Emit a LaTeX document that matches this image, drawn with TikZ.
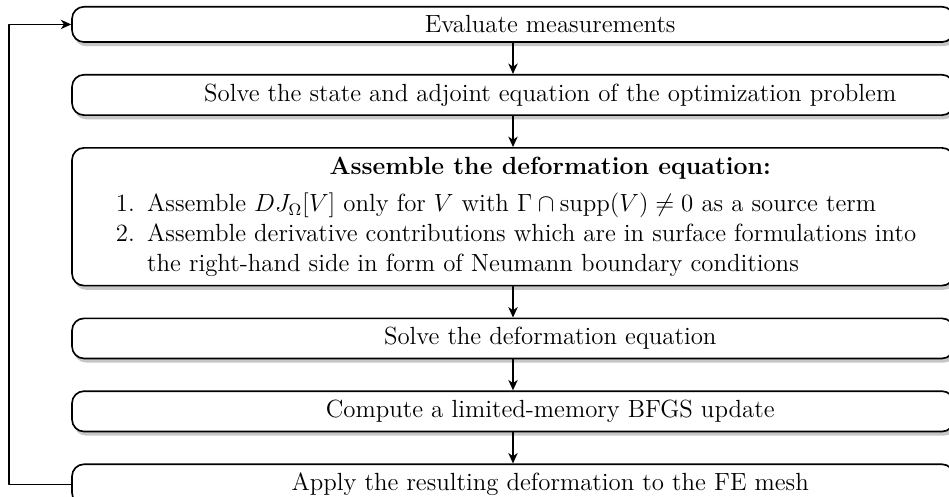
\documentclass[12pt,tikz,border=0pt]{standalone}
\usepackage{amsmath}
\usepackage{amssymb}
\usepackage{enumitem}
\usepackage{tikz}
\usetikzlibrary{arrows.meta, positioning, shadows}

\begin{document}
\begin{tikzpicture}[line cap=round, line join=round, >={Stealth[length=5pt,width=4.5pt,inset=1.5pt]},
		node distance=15pt,
		stage/.style={draw, thick, fill=white, rounded corners=5.8pt, minimum width=426pt,
			inner xsep=6.3pt, inner ysep=4.3pt,
			drop shadow={shadow xshift=1pt, shadow yshift=-2pt, fill=black!22, opacity=1}},
		task/.style={stage, execute at begin node={\hspace*{3em}}},
		flow/.style={->, thick}]
		% frame of the picture
		\useasboundingbox (-247.8pt,11.8pt) rectangle (210.6pt,-227.8pt);
		
		% stages of one iteration
		\node[task] (eval) at (0,0) {Evaluate measurements};
		\node[task, below=of eval] (solve) {Solve the state and adjoint equation of the optimization problem};
		\node[stage, below=of solve] (assemble) {\begin{minipage}{413.4pt}
				\centering\hspace*{3em}\textbf{Assemble the deformation equation:}\par\raggedright
				\begin{enumerate}[topsep=3.6pt, partopsep=0pt, itemsep=0pt, parsep=0pt]
					\item Assemble $DJ_\Omega[V]$ only for $V$ with $\Gamma\cap\operatorname{supp}(V)\neq 0$ as a source term
					\item Assemble derivative contributions which are in surface formulations into the right-hand side in form of Neumann boundary conditions
				\end{enumerate}
			\end{minipage}};
		\node[task, below=of assemble] (deform) {Solve the deformation equation};
		\node[task, below=of deform] (bfgs) {Compute a limited-memory BFGS update};
		\node[task, below=of bfgs] (apply) {Apply the resulting deformation to the FE mesh};
		
		% connectors
		\draw [flow] (eval) -- (solve);
		\draw [flow] (solve) -- (assemble);
		\draw [flow] (assemble) -- (deform);
		\draw [flow] (deform) -- (bfgs);
		\draw [flow] (bfgs) -- (apply);
		\draw [flow] (apply.west) -- ++(-30pt,0) |- (eval.west); % next iteration
	\end{tikzpicture}
\end{document}
